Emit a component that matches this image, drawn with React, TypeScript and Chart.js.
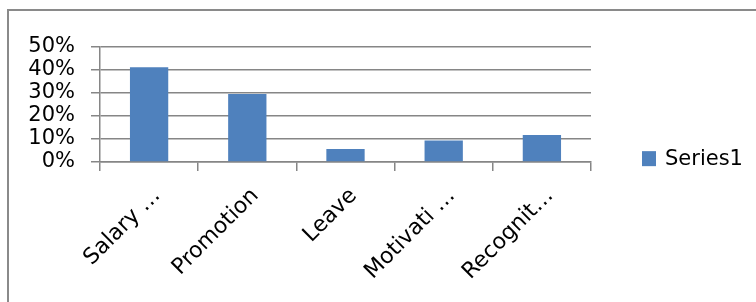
import React, { useEffect, useRef } from "react";
import { Chart, registerables } from "chart.js";

Chart.register(...registerables);

const categories = ["Salary …", "Promotion", "Leave", "Motivati …", "Recognit…"];
const series1 = [0.412, 0.296, 0.057, 0.094, 0.117];
const seriesName = "Series1";
const yMin = 0;
const yMax = 0.5;
const yStep = 0.1;

const FONT = "'DejaVu Sans', sans-serif";
const GRID = "#868686";
const BAR = "#4F81BD";

const sideLegend = {
  id: "sideLegend",
  afterDraw(chart: any) {
    const ctx = chart.ctx;
    const ds = chart.data.datasets[0];
    const x = chart.chartArea.right + 51;
    const cy = chart.height * 0.527;
    ctx.save();
    ctx.fillStyle = ds.backgroundColor;
    ctx.fillRect(x, cy - 8, 14, 15);
    ctx.fillStyle = "#000";
    ctx.font = `21px ${FONT}`;
    ctx.textBaseline = "middle";
    ctx.textAlign = "left";
    ctx.fillText(ds.label, x + 23, cy);
    ctx.restore();
  },
};

export default function App() {
  const ref = useRef<HTMLCanvasElement>(null);
  useEffect(() => {
    if (!ref.current) return;
    const chart = new Chart(ref.current, {
      type: "bar",
      data: {
        labels: categories,
        datasets: [
          {
            label: seriesName,
            data: series1,
            backgroundColor: BAR,
            borderWidth: 0,
            categoryPercentage: 1,
            barPercentage: 0.39,
          },
        ],
      },
      plugins: [sideLegend],
      options: {
        responsive: false,
        animation: false,
        layout: { padding: { left: 0, right: 165, top: 47, bottom: 0 } },
        plugins: { legend: { display: false }, tooltip: { enabled: false } },
        scales: {
          x: {
            afterFit(scale: any) {
              scale.height = 140;
            },
            grid: {
              display: true,
              drawOnChartArea: false,
              drawTicks: true,
              tickLength: 9,
              color: GRID,
              lineWidth: 1.5,
              offset: true,
            },
            border: { display: true, color: GRID, width: 1.5 },
            ticks: {
              minRotation: 45,
              maxRotation: 45,
              autoSkip: false,
              color: "#000",
              font: { family: FONT, size: 22 },
              labelOffset: 8,
              padding: 12,
            },
          },
          y: {
            min: yMin,
            max: yMax,
            afterFit(scale: any) {
              scale.width = 100;
            },
            grid: {
              color: GRID,
              lineWidth: 1.5,
              drawTicks: true,
              tickLength: 9,
            },
            border: { display: true, color: GRID, width: 1.5 },
            ticks: {
              stepSize: yStep,
              autoSkip: false,
              padding: 16,
              color: "#000",
              font: { family: FONT, size: 21 },
              callback: (v: any) => `${Math.round(Number(v) * 100)}%`,
            },
          },
        },
      },
    });
    return () => chart.destroy();
  }, []);

  return (
    <div
      style={{
        position: "fixed",
        left: 0,
        top: 0,
        width: 756,
        height: 302,
        background: "#fff",
        overflow: "hidden",
      }}
    >
      <div
        style={{
          position: "absolute",
          left: 7,
          top: 9,
          width: 760,
          height: 310,
          borderLeft: "2px solid #8a8a8a",
          borderTop: "2px solid #8a8a8a",
        }}
      />
      <canvas
        ref={ref}
        width={756}
        height={302}
        style={{ position: "absolute", left: 0, top: 0, width: 756, height: 302 }}
      />
    </div>
  );
}
